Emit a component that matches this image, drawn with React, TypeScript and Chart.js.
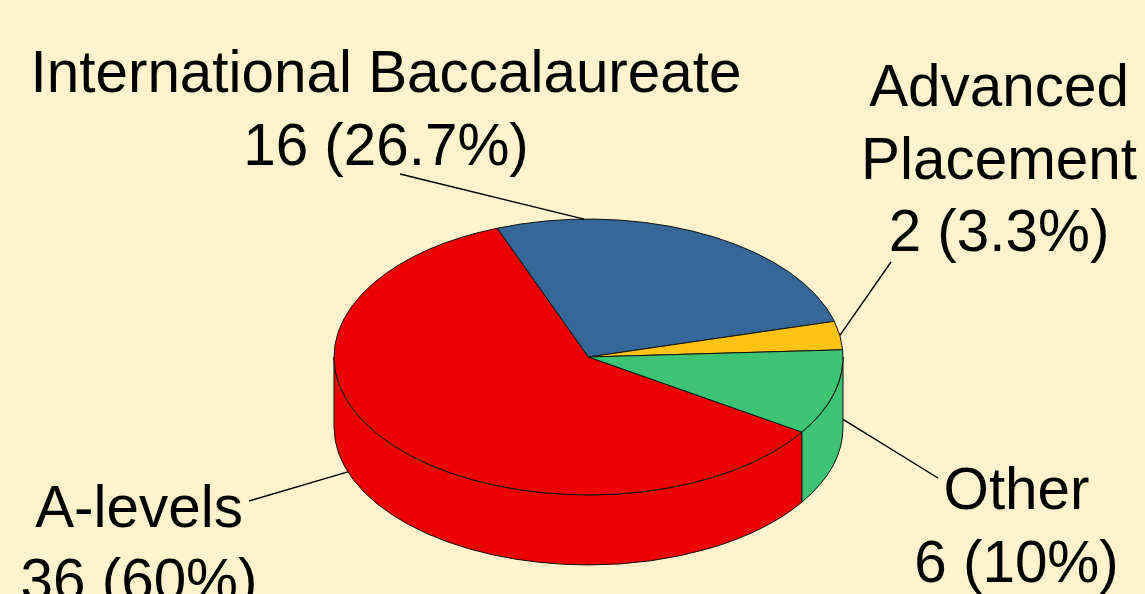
import React, { useEffect, useRef } from "react";
import { Chart, registerables } from "chart.js";

Chart.register(...registerables);

// ---- data ----
const categories = ["A-levels", "International Baccalaureate", "Advanced Placement", "Other"];
const categoryLines = [["A-levels"], ["International Baccalaureate"], ["Advanced", "Placement"], ["Other"]];
const counts = [36, 16, 2, 6];
const sliceColors = ["#EC0000", "#356799", "#FDC314", "#3CC373"];

// ---- styling / layout ----
const BG = "#FFF2CC";
const TILT = 0.542; // vertical squash of the pie
const DEPTH = 70; // thickness of the 3D wall in px
const FONT = '58.4px "Liberation Sans", Arial, sans-serif';
const LINE_GAP = 72.5;

// label placement: text centre, first baseline, leader start, leader end on rim (angle deg or null = mid-angle, fraction of depth)
const labelLayout = [
  { cx: 139, baseline: 527, from: [249, 501], rimDeg: 161, depthFrac: 1 },
  { cx: 386, baseline: 92, from: [400, 174], rimDeg: -91, depthFrac: 0 },
  { cx: 999, baseline: 106, from: [891, 262], rimDeg: null as number | null, depthFrac: 0 },
  { cx: 1016.5, baseline: 509, from: [938, 478], rimDeg: 0, depthFrac: 0.89 },
];

function fmtPct(v: number, total: number) {
  const p = (v / total) * 100;
  const s = p.toFixed(1);
  return (s.endsWith(".0") ? s.slice(0, -2) : s) + "%";
}

const pie3d = {
  id: "pie3d",
  beforeDraw(chart: any) {
    const ctx = chart.ctx;
    ctx.save();
    ctx.fillStyle = BG;
    ctx.fillRect(0, 0, chart.width, chart.height);
    ctx.restore();
  },
  beforeDatasetsDraw(chart: any) {
    const ctx: CanvasRenderingContext2D = chart.ctx;
    const meta = chart.getDatasetMeta(0);
    const colors = chart.data.datasets[0].backgroundColor as string[];
    ctx.save();
    ctx.lineWidth = 1;
    ctx.strokeStyle = "#111";
    ctx.lineJoin = "round";
    // walls
    meta.data.forEach((arc: any, i: number) => {
      const { x, y, startAngle, endAngle, outerRadius } = arc.getProps(
        ["x", "y", "startAngle", "endAngle", "outerRadius"],
        true
      );
      const R = outerRadius;
      const r = R * TILT;
      for (let k = -1; k <= 2; k++) {
        const a = Math.max(startAngle, 2 * Math.PI * k);
        const b = Math.min(endAngle, 2 * Math.PI * k + Math.PI);
        if (b > a + 1e-6) {
          ctx.beginPath();
          ctx.ellipse(x, y, R, r, 0, a, b, false);
          ctx.lineTo(x + R * Math.cos(b), y + DEPTH + r * Math.sin(b));
          ctx.ellipse(x, y + DEPTH, R, r, 0, b, a, true);
          ctx.closePath();
          ctx.fillStyle = colors[i];
          ctx.fill();
          ctx.stroke();
        }
      }
    });
    // top faces
    meta.data.forEach((arc: any, i: number) => {
      const { x, y, startAngle, endAngle, outerRadius } = arc.getProps(
        ["x", "y", "startAngle", "endAngle", "outerRadius"],
        true
      );
      const R = outerRadius;
      const r = R * TILT;
      ctx.beginPath();
      ctx.moveTo(x, y);
      ctx.ellipse(x, y, R, r, 0, startAngle, endAngle, false);
      ctx.closePath();
      ctx.fillStyle = colors[i];
      ctx.fill();
      ctx.stroke();
    });
    ctx.restore();
    return false;
  },
  afterDraw(chart: any) {
    const ctx: CanvasRenderingContext2D = chart.ctx;
    const meta = chart.getDatasetMeta(0);
    const data = chart.data.datasets[0].data as number[];
    const total = data.reduce((s, v) => s + v, 0);
    ctx.save();
    ctx.fillStyle = "#000";
    ctx.strokeStyle = "#000";
    ctx.lineWidth = 1.4;
    ctx.font = FONT;
    ctx.textAlign = "center";
    ctx.textBaseline = "alphabetic";
    meta.data.forEach((arc: any, i: number) => {
      const L = labelLayout[i];
      const { x, y, startAngle, endAngle, outerRadius } = arc.getProps(
        ["x", "y", "startAngle", "endAngle", "outerRadius"],
        true
      );
      const ang = L.rimDeg === null ? (startAngle + endAngle) / 2 : (L.rimDeg * Math.PI) / 180;
      const ex = x + outerRadius * Math.cos(ang);
      const ey = y + outerRadius * TILT * Math.sin(ang) + DEPTH * L.depthFrac;
      ctx.beginPath();
      ctx.moveTo(L.from[0], L.from[1]);
      ctx.lineTo(ex, ey);
      ctx.stroke();
      const lines = [...categoryLines[i], `${data[i]} (${fmtPct(data[i], total)})`];
      lines.forEach((t, j) => ctx.fillText(t, L.cx, L.baseline + j * LINE_GAP));
    });
    ctx.restore();
  },
};

export default function App() {
  const ref = useRef<HTMLCanvasElement | null>(null);
  useEffect(() => {
    document.body.style.margin = "0";
    document.body.style.background = BG;
    if (!ref.current) return;
    const chart = new Chart(ref.current, {
      type: "pie",
      data: {
        labels: categories,
        datasets: [
          {
            data: counts,
            backgroundColor: sliceColors,
            borderColor: "#111",
            borderWidth: 1,
          },
        ],
      },
      options: {
        responsive: false,
        animation: false,
        devicePixelRatio: 1,
        events: [],
        rotation: 123,
        radius: 254.5,
        layout: { padding: { top: 120, left: 32, right: 0, bottom: 0 } },
        plugins: { legend: { display: false }, tooltip: { enabled: false } },
      } as any,
      plugins: [pie3d as any],
    });
    return () => chart.destroy();
  }, []);
  return (
    <div style={{ width: 1145, height: 594, background: BG, overflow: "hidden" }}>
      <canvas ref={ref} width={1145} height={594} style={{ display: "block" }} />
    </div>
  );
}
